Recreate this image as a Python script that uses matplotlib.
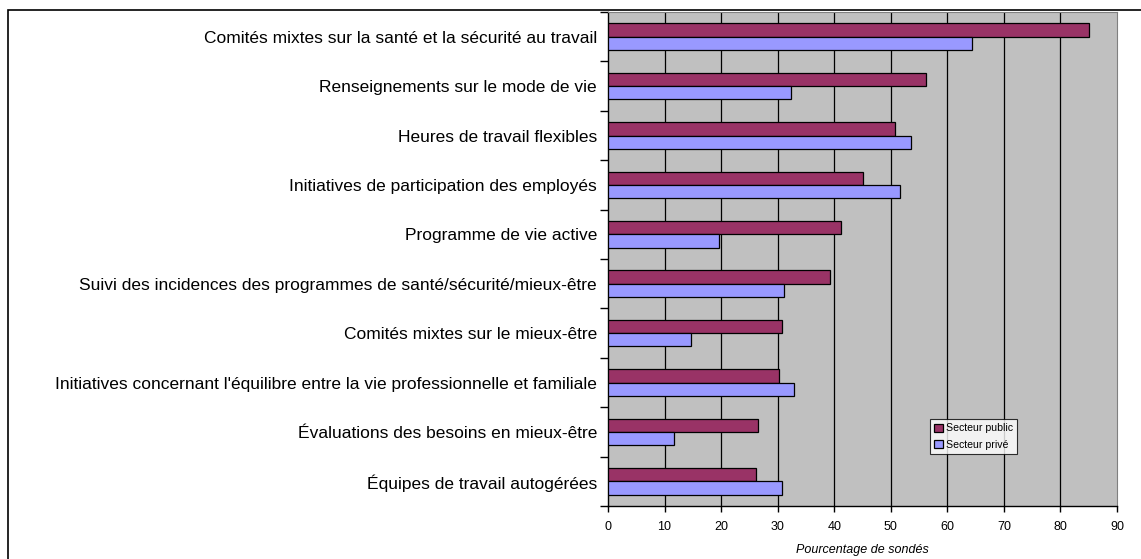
import matplotlib.pyplot as plt
import numpy as np
from matplotlib.patches import Rectangle

categories = [
    "Comités mixtes sur la santé et la sécurité au travail",
    "Renseignements sur le mode de vie",
    "Heures de travail flexibles",
    "Initiatives de participation des employés",
    "Programme de vie active",
    "Suivi des incidences des programmes de santé/sécurité/mieux-être",
    "Comités mixtes sur le mieux-être",
    "Initiatives concernant l'équilibre entre la vie professionnelle et familiale",
    "Évaluations des besoins en mieux-être",
    "Équipes de travail autogérées",
]
public = [85.0, 56.3, 50.8, 45.0, 41.2, 39.2, 30.8, 30.2, 26.5, 26.1]
private = [64.4, 32.4, 53.5, 51.6, 19.6, 31.1, 14.7, 32.8, 11.6, 30.8]
xticks = [0, 10, 20, 30, 40, 50, 60, 70, 80, 90]

plt.rcParams['font.family'] = ['Liberation Sans', 'DejaVu Sans']

W, H = 1141, 559
fig = plt.figure(figsize=(W / 100, H / 100), dpi=100)
ax = fig.add_axes([608 / W, 1 - 506 / H, (1117 - 608) / W, (506 - 12) / H])

# outer chart border
fig.patches.append(Rectangle((8 / W, -0.1), 1.2, 1 - 10 / H + 0.1,
                             transform=fig.transFigure, fill=False,
                             edgecolor='black', linewidth=1.2))

y = np.arange(len(categories))
h = 0.27
ax.set_facecolor('#C0C0C0')
for xv in xticks[1:-1]:
    ax.axvline(xv, color='black', linewidth=0.9, zorder=1)
ax.barh(y - h / 2, public, height=h, color='#993366', edgecolor='black',
        linewidth=0.9, label='Secteur public', zorder=3)
ax.barh(y + h / 2, private, height=h, color='#9999FF', edgecolor='black',
        linewidth=0.9, label='Secteur privé', zorder=3)

ax.set_xlim(0, 90)
ax.set_ylim(len(categories) - 0.5, -0.5)
ax.set_xticks(xticks)
ax.set_xticklabels([str(t) for t in xticks], fontsize=9)
ax.set_yticks(np.arange(-0.5, len(categories), 1), minor=False)
ax.set_yticklabels([])
ax.set_yticks(y, minor=True)
ax.set_yticklabels(categories, minor=True, fontsize=12.5)
ax.tick_params(axis='y', which='minor', length=0, pad=8)
ax.tick_params(axis='y', which='major', length=6, width=1)
ax.tick_params(axis='x', length=4, width=1, pad=7)
ax.set_xlabel('Pourcentage de sondés', fontsize=9, style='italic', labelpad=8)

for s in ['top', 'right']:
    ax.spines[s].set_color('#808080')
for s in ['left', 'bottom']:
    ax.spines[s].set_color('black')
    ax.spines[s].set_linewidth(1)

leg = ax.legend(loc='upper left', bbox_to_anchor=((930 - 608) / 509, 1 - (419 - 12) / 494),
                fontsize=7.6, frameon=True, fancybox=False, edgecolor='black',
                handlelength=0.8, handleheight=0.8, handletextpad=0.3,
                borderpad=0.4, labelspacing=0.6, borderaxespad=0)
leg.get_frame().set_linewidth(0.8)
leg.get_frame().set_facecolor('white')

fig.savefig('out.png', dpi=100)
